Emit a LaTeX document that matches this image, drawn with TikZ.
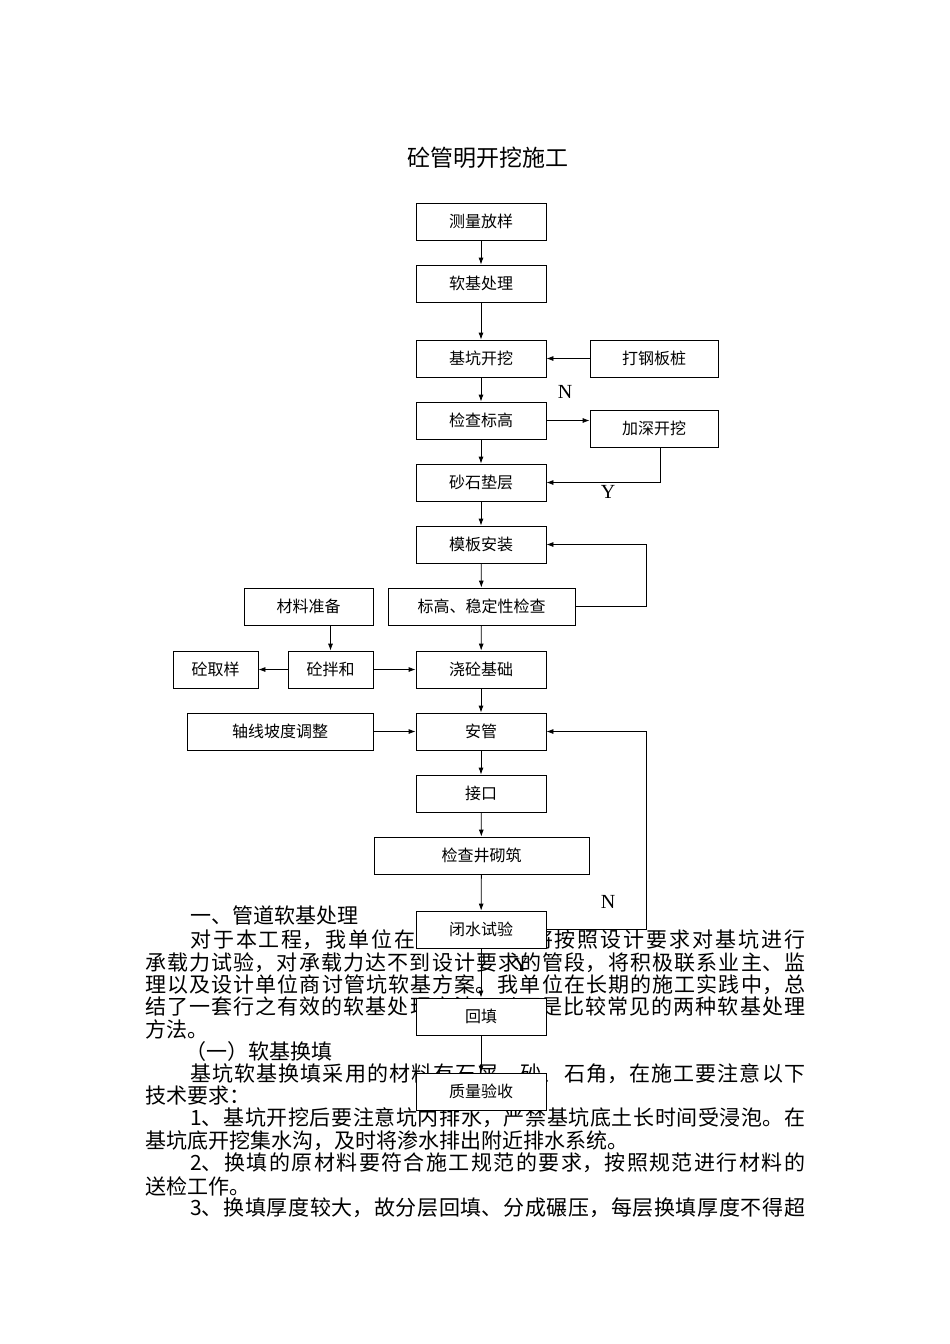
\documentclass[tikz,border=0pt]{standalone}
\usepackage{fontspec}
\usetikzlibrary{arrows.meta}
\setmainfont{Liberation Serif}
\newfontfamily\cjk{Noto Sans CJK SC}
\XeTeXlinebreaklocale "zh"
\XeTeXlinebreakskip=0pt plus 1fil
\newcommand{\jline}[2]{\parbox{#1}{\parindent=0pt\parfillskip=0pt\relax #2}}
\begin{document}
\begin{tikzpicture}[x=1pt,y=-1pt,
  box/.style={draw,fill=white,thick,minimum height=37pt,inner sep=0pt,font=\cjk\fontsize{16}{16}\selectfont},
  arr/.style={-{Latex[length=7pt,width=5pt]},thick},
  body/.style={anchor=west,inner sep=0pt,font=\cjk\fontsize{21}{21}\selectfont},
  lab/.style={font=\fontsize{20}{20}\selectfont}]
\useasboundingbox (0,0) rectangle (950,1344);
\fill[white] (0,0) rectangle (950,1344);
\node[anchor=center,font=\cjk\fontsize{23}{23}\selectfont] (title) at (488,158) {砼管明开挖施工};
% body text
\node[body] (t1) at (190,915) {一、管道软基处理};
\node[body] (t2) at (190,940) {\jline{615pt}{对于本工程，我单位在开挖过程中将按照设计要求对基坑进行}};
\node[body] (t3) at (145,963) {\jline{660pt}{承载力试验，对承载力达不到设计要求的管段，将积极联系业主、监}};
\node[body] (t4) at (145,985) {\jline{660pt}{理以及设计单位商讨管坑软基方案。我单位在长期的施工实践中，总}};
\node[body] (t5) at (145,1007) {\jline{660pt}{结了一套行之有效的软基处理方法，以下是比较常见的两种软基处理}};
\node[body] (t6) at (145,1029) {方法。};
\node[body] (t7) at (185,1052) {（一）软基换填};
\node[body] (t8) at (190,1074) {\jline{615pt}{基坑软基换填采用的材料有石屑、砂、石角，在施工要注意以下}};
\node[body] (t9) at (145,1096) {技术要求：};
\node[body] (t10) at (190,1118) {\jline{615pt}{1、基坑开挖后要注意坑内排水，严禁基坑底土长时间受浸泡。在}};
\node[body] (t11) at (145,1141) {基坑底开挖集水沟，及时将渗水排出附近排水系统。};
\node[body] (t12) at (190,1163) {\jline{615pt}{2、换填的原材料要符合施工规范的要求，按照规范进行材料的}};
\node[body] (t13) at (145,1186) {送检工作。};
\node[body] (t14) at (190,1208) {\jline{615pt}{3、换填厚度较大，故分层回填、分成碾压，每层换填厚度不得超}};
% boxes
\node[box,minimum width=130pt] (b1) at (481,221.5) {测量放样};
\node[box,minimum width=130pt] (b2) at (481,283.5) {软基处理};
\node[box,minimum width=130pt] (b3) at (481,358.5) {基坑开挖};
\node[box,minimum width=128pt] (s1) at (654,358.5) {打钢板桩};
\node[box,minimum width=130pt] (b4) at (481,420.5) {检查标高};
\node[box,minimum width=128pt] (s2) at (654,428.5) {加深开挖};
\node[box,minimum width=130pt] (b5) at (481,482.5) {砂石垫层};
\node[box,minimum width=130pt] (b6) at (481,544.5) {模板安装};
\node[box,minimum width=187pt] (b7) at (481.5,606.5) {标高、稳定性检查};
\node[box,minimum width=129pt] (m1) at (308.5,606.5) {材料准备};
\node[box,minimum width=85pt] (m2) at (330.5,669.5) {砼拌和};
\node[box,minimum width=85pt] (m3) at (215.5,669.5) {砼取样};
\node[box,minimum width=130pt] (b8) at (481,669.5) {浇砼基础};
\node[box,minimum width=186pt] (m4) at (280,731.5) {轴线坡度调整};
\node[box,minimum width=130pt] (b9) at (481,731.5) {安管};
\node[box,minimum width=130pt] (b10) at (481,793.5) {接口};
\node[box,minimum width=215pt] (b11) at (481.5,855.5) {检查井砌筑};
\node[box,minimum width=130pt] (b12) at (481,929.5) {闭水试验};
\node[box,minimum width=130pt] (b13) at (481,1016.5) {回填};
\node[box,minimum width=130pt] (b14) at (481,1091.5) {质量验收};
% connectors
\foreach \a/\b in {b1/b2,b2/b3,b3/b4,b4/b5,b5/b6,b6/b7,b7/b8,b8/b9,b9/b10,b10/b11,b11/b12,b12/b13,b13/b14}
  \draw[arr] (\a) -- (\b);
\draw[arr] (s1) -- (b3);
\draw[arr] (b4.east) -- (b4.east -| s2.west);
\draw[arr] (s2.south -| 660,0) |- (b5.east);
\draw[arr] (b7.east) -- (646,606.5) |- (b6.east);
\draw[arr] (m1.south -| m2.north) -- (m2.north);
\draw[arr] (m2) -- (m3);
\draw[arr] (m2) -- (b8);
\draw[arr] (m4) -- (b9);
\draw[arr] (b12.east) -- (646,929.5) |- (b9.east);
\node[lab] (n1) at (565,392) {N};
\node[lab] (y1) at (608,492) {Y};
\node[lab] (n2) at (608,902) {N};
\node[lab] (y2) at (521,965) {Y};
\end{tikzpicture}
\end{document}
